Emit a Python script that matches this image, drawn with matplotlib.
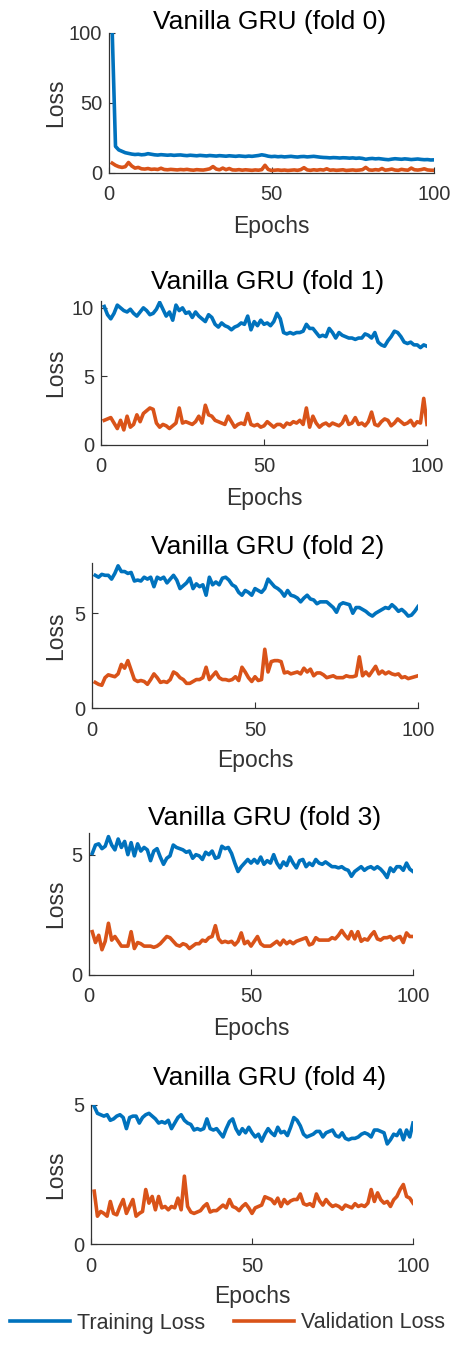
import numpy as np
import matplotlib
matplotlib.use("Agg")
import matplotlib.pyplot as plt

plt.rcParams['font.family'] = ['Liberation Sans', 'DejaVu Sans']

epochs = np.arange(1, 101)

fold0_train = [100, 19, 16.5, 15.5, 14.5, 14, 13.5, 13.2, 13.4, 13.0,
               13.2, 13.8, 13.4, 13.0, 12.8, 13.1, 12.9, 12.7, 12.9, 12.6,
               12.8, 12.9, 12.6, 12.4, 12.7, 12.5, 12.3, 12.6, 12.4, 12.2,
               12.5, 12.3, 12.1, 12.4, 12.2, 12.0, 12.3, 12.1, 11.9, 12.2,
               12.0, 11.8, 12.1, 11.9, 12.2, 12.5, 13.0, 12.6, 12.0, 11.7,
               11.9, 11.6, 11.8, 11.5, 11.7, 11.9, 11.6, 11.4, 11.7, 11.8,
               11.5, 11.7, 11.9, 11.6, 11.3, 11.1, 11.0, 10.8, 11.0, 10.9,
               10.7, 10.9, 10.8, 10.6, 10.8, 10.5, 10.7, 10.4, 9.8, 10.2,
               10.4, 10.1, 10.3, 10.0, 9.7, 9.5, 9.9, 10.2, 10.0, 9.8,
               10.1, 9.9, 9.6, 9.8, 10.0, 9.7, 9.5, 9.6, 9.3, 9.4]
fold0_val = [7.0, 5.5, 4.5, 4.0, 4.5, 7.5, 5.0, 3.5, 4.0, 3.0,
             2.8, 3.2, 2.6, 2.8, 2.5, 3.4, 2.5, 2.3, 2.6, 2.4,
             2.2, 2.5, 2.3, 2.6, 2.2, 2.0, 2.4, 2.2, 2.1, 2.5,
             3.0, 4.6, 2.8, 2.3, 3.5, 2.4, 3.2, 2.2, 2.1, 2.4,
             2.0, 2.3, 2.1, 1.9, 2.2, 2.0, 2.4, 5.5, 2.5, 1.8,
             2.0, 2.2, 1.9, 2.1, 1.8, 2.0, 2.2, 1.9, 2.4, 3.8,
             2.2, 1.9, 2.3, 2.0, 2.4, 2.1, 3.0, 2.0, 2.2, 1.9,
             2.1, 2.3, 1.8, 2.0, 2.2, 1.9, 2.1, 2.4, 4.0, 2.2,
             2.0, 2.4, 2.1, 3.2, 2.0, 2.3, 2.8, 2.1, 1.9, 2.6,
             2.2, 2.0, 3.5, 2.3, 2.1, 2.4, 3.0, 2.2, 2.0, 1.9]

fold1_train = [10.1, 9.5, 9.2, 9.6, 10.2, 10.0, 9.8, 9.7, 9.9, 9.6,
               9.4, 9.7, 10.0, 9.8, 9.5, 9.6, 9.9, 10.4, 9.9, 9.4,
               9.7, 9.1, 10.2, 9.8, 10.0, 9.6, 9.7, 9.3, 9.7, 9.4,
               9.2, 9.0, 9.5, 9.3, 8.8, 8.6, 8.9, 8.7, 8.6, 8.4,
               8.6, 8.7, 8.9, 8.8, 9.4, 8.4, 9.0, 8.7, 9.1, 8.8,
               8.9, 8.7, 9.0, 9.6, 9.2, 8.2, 8.1, 8.2, 8.1, 8.2,
               8.2, 8.3, 8.8, 8.5, 8.5, 8.2, 7.9, 8.0, 7.9, 8.5,
               8.2, 7.8, 8.2, 8.0, 7.9, 7.8, 7.8, 7.7, 7.8, 7.8,
               8.1, 8.0, 7.8, 8.2, 7.5, 7.3, 7.2, 7.6, 7.9, 8.3,
               8.2, 7.9, 7.5, 7.4, 7.5, 7.3, 7.3, 7.1, 7.3, 7.2]
fold1_val = [1.8, 1.9, 2.0, 1.6, 1.2, 1.8, 1.1, 2.1, 1.3, 1.5,
             2.2, 1.7, 2.3, 2.5, 2.7, 2.6, 1.6, 1.3, 1.5, 1.4,
             1.2, 1.4, 1.6, 2.7, 1.6, 1.7, 1.6, 1.5, 1.7, 2.1,
             1.6, 2.9, 2.2, 2.1, 1.8, 1.7, 1.6, 1.5, 2.1, 1.7,
             1.3, 1.5, 1.6, 1.5, 2.3, 1.5, 1.4, 1.5, 1.3, 1.4,
             1.7, 1.5, 1.3, 1.5, 1.5, 1.3, 1.6, 1.5, 1.7, 1.6,
             1.8, 1.5, 2.7, 1.3, 2.1, 1.6, 1.3, 1.5, 1.6, 1.4,
             1.6, 1.5, 1.4, 1.6, 2.1, 1.5, 1.6, 2.0, 1.5, 1.6,
             1.4, 1.7, 2.4, 1.5, 1.4, 1.7, 1.9, 1.8, 1.4, 1.6,
             1.9, 1.7, 1.5, 1.6, 1.8, 1.4, 1.7, 1.6, 3.4, 1.5]

fold2_train = [7.0, 6.9, 7.05, 7.0, 7.0, 6.8, 7.1, 7.5, 7.2, 7.2,
               7.1, 7.15, 6.7, 6.75, 6.7, 6.9, 6.8, 6.9, 6.4, 6.9,
               6.8, 6.9, 6.6, 6.8, 7.0, 6.75, 6.3, 6.45, 6.6, 6.85,
               6.3, 6.55, 6.4, 6.5, 5.95, 6.9, 6.5, 6.65, 6.5, 6.85,
               6.9, 6.75, 6.5, 6.4, 6.1, 5.95, 6.2, 6.1, 5.95, 6.3,
               6.2, 6.1, 6.3, 6.8, 6.6, 6.4, 6.3, 6.15, 5.9, 6.2,
               5.95, 5.9, 5.8, 5.6, 5.8, 5.95, 5.75, 5.7, 5.5, 5.6,
               5.6, 5.6, 5.45, 5.3, 5.05, 5.45, 5.55, 5.5, 5.45, 5.0,
               5.3, 5.3, 5.2, 5.1, 4.95, 4.85, 5.0, 5.1, 5.2, 5.3,
               5.25, 5.45, 5.3, 5.1, 5.2, 5.05, 4.85, 4.9, 5.1, 5.35]
fold2_val = [1.35, 1.25, 1.2, 1.6, 1.75, 1.7, 1.65, 1.8, 2.3, 2.1,
             2.5, 2.0, 1.5, 1.4, 1.45, 1.4, 1.25, 1.5, 1.8, 1.6,
             1.35, 1.4, 1.35, 1.5, 1.9, 1.8, 1.6, 1.5, 1.3, 1.3,
             1.4, 1.5, 1.5, 1.6, 2.15, 1.5, 1.7, 1.9, 1.6, 1.5,
             1.5, 1.45, 1.5, 1.65, 1.45, 2.15, 1.9, 1.6, 1.4, 1.65,
             1.45, 1.5, 3.1, 1.9, 2.45, 2.5, 2.5, 2.45, 1.85, 1.9,
             1.8, 1.85, 1.9, 1.8, 2.1, 1.9, 2.05, 1.7, 1.85, 1.85,
             1.75, 1.6, 1.65, 1.7, 1.6, 1.6, 1.6, 1.7, 1.65, 1.65,
             1.7, 2.7, 1.7, 1.9, 1.7, 1.95, 2.2, 1.8, 1.95, 1.8,
             1.9, 1.8, 1.75, 1.8, 1.6, 1.65, 1.55, 1.6, 1.65, 1.7]

fold3_train = [5.05, 5.4, 5.45, 5.25, 5.35, 5.75, 5.4, 5.2, 5.65, 5.3,
               5.55, 5.0, 5.5, 4.95, 5.45, 5.15, 5.3, 5.2, 4.75, 5.15,
               5.25, 4.9, 4.6, 4.85, 4.95, 5.4, 5.3, 5.25, 5.2, 5.1,
               5.15, 4.85, 5.0, 4.95, 4.8, 5.1, 5.0, 5.15, 4.85, 4.9,
               5.35, 5.25, 5.3, 5.05, 4.65, 4.3, 4.5, 4.65, 4.8, 4.65,
               4.8, 4.65, 4.9, 4.6, 4.75, 4.65, 5.0, 4.65, 4.45, 4.7,
               4.55, 4.9, 4.65, 4.45, 4.75, 4.8, 4.5, 4.65, 4.55, 4.8,
               4.65, 4.6, 4.7, 4.6, 4.5, 4.5, 4.45, 4.5, 4.4, 4.35,
               4.1, 4.3, 4.4, 4.5, 4.35, 4.45, 4.5, 4.4, 4.5, 4.4,
               4.25, 4.05, 4.45, 4.3, 4.5, 4.5, 4.35, 4.65, 4.4, 4.3]
fold3_val = [1.8, 1.35, 1.65, 1.05, 1.4, 2.15, 1.45, 1.6, 1.4, 1.2,
             1.2, 1.2, 1.8, 1.1, 1.35, 1.3, 1.2, 1.2, 1.2, 1.15,
             1.2, 1.3, 1.45, 1.6, 1.55, 1.4, 1.25, 1.2, 1.3, 1.25,
             1.1, 1.2, 1.3, 1.3, 1.45, 1.4, 1.55, 1.6, 2.05, 1.5,
             1.35, 1.4, 1.35, 1.4, 1.25, 1.4, 1.75, 1.3, 1.4, 1.2,
             1.4, 1.6, 1.3, 1.2, 1.2, 1.2, 1.3, 1.4, 1.25, 1.45,
             1.3, 1.4, 1.3, 1.4, 1.45, 1.5, 1.55, 1.25, 1.3, 1.55,
             1.45, 1.45, 1.45, 1.45, 1.55, 1.5, 1.65, 1.85, 1.65, 1.5,
             1.8, 1.5, 1.8, 1.4, 1.5, 1.45, 1.65, 1.8, 1.5, 1.45,
             1.55, 1.55, 1.6, 1.45, 1.55, 1.6, 1.35, 1.75, 1.6, 1.6]

fold4_train = [4.95, 4.7, 4.65, 4.6, 4.65, 4.45, 4.5, 4.6, 4.65, 4.55,
               4.15, 4.55, 4.6, 4.6, 4.35, 4.55, 4.65, 4.7, 4.6, 4.5,
               4.35, 4.4, 4.35, 4.45, 4.15, 4.35, 4.55, 4.65, 4.45, 4.35,
               4.3, 4.1, 4.15, 4.1, 4.15, 4.5, 4.15, 4.1, 4.15, 4.0,
               3.85, 4.15, 4.4, 4.5, 4.15, 3.95, 4.15, 4.0, 4.2, 4.0,
               3.85, 3.95, 3.7, 3.95, 4.15, 4.0, 3.9, 4.2, 4.0, 4.05,
               3.9, 4.2, 4.55, 4.45, 4.25, 3.95, 3.85, 3.9, 3.95, 4.05,
               4.05, 3.85, 4.0, 4.05, 4.1, 3.9, 3.85, 4.0, 3.8, 3.75,
               3.8, 3.8, 3.85, 3.95, 4.0, 3.95, 3.85, 4.1, 4.1, 4.05,
               4.0, 3.6, 3.75, 3.95, 3.9, 4.1, 3.75, 4.1, 3.85, 4.35]
fold4_val = [1.9, 1.0, 1.17, 1.1, 1.0, 1.53, 1.1, 1.05, 1.35, 1.6,
             1.1, 1.35, 1.6, 1.0, 1.1, 1.17, 1.96, 1.47, 1.71, 1.23,
             1.71, 1.3, 1.35, 1.23, 1.35, 1.3, 1.65, 1.23, 2.44, 1.35,
             1.15, 1.1, 1.15, 1.2, 1.35, 1.45, 1.15, 1.2, 1.2, 1.3,
             1.4, 1.3, 1.6, 1.35, 1.3, 1.2, 1.35, 1.45, 1.3, 1.1,
             1.3, 1.35, 1.4, 1.7, 1.65, 1.6, 1.45, 1.65, 1.35, 1.6,
             1.45, 1.55, 1.6, 1.6, 1.8, 1.45, 1.4, 1.45, 1.35, 1.8,
             1.55, 1.4, 1.6, 1.45, 1.35, 1.4, 1.35, 1.25, 1.4, 1.35,
             1.3, 1.45, 1.35, 1.4, 1.35, 1.47, 1.96, 1.53, 1.84, 1.59,
             1.47, 1.53, 1.35, 1.59, 1.71, 1.96, 2.14, 1.71, 1.65, 1.47]

titles = ["Vanilla GRU (fold 0)", "Vanilla GRU (fold 1)", "Vanilla GRU (fold 2)",
          "Vanilla GRU (fold 3)", "Vanilla GRU (fold 4)"]
train_series = [fold0_train, fold1_train, fold2_train, fold3_train, fold4_train]
val_series = [fold0_val, fold1_val, fold2_val, fold3_val, fold4_val]
y_limits = [(0, 100), (0, 10.5), (0, 7.65), (0, 5.9), (0, 5)]
y_ticks = [[0, 50, 100], [0, 5, 10], [0, 5], [0, 5], [0, 5]]
x_ticks = [0, 50, 100]
legend_labels = ["Training Loss", "Validation Loss"]

BLUE = "#0072BD"
ORANGE = "#D95319"
GRAY = "#333333"

W, H = 455, 1348
fig = plt.figure(figsize=(W / 100, H / 100), dpi=100)

# axes boxes in pixels: left, right, top, bottom
boxes = [(109, 434, 33, 173),
         (101, 427, 301, 445),
         (92, 418, 563, 708),
         (89, 413, 833, 975),
         (91, 413, 1105, 1244)]
title_y = [22, 282, 547, 818, 1078]
title_x = [270, 268, 268, 265, 270]

handles = None
for i in range(5):
    l, r, t, b = boxes[i]
    ax = fig.add_axes([l / W, 1 - b / H, (r - l) / W, (b - t) / H])
    h1, = ax.plot(epochs, train_series[i], color=BLUE, lw=2.6, solid_joinstyle='round')
    h2, = ax.plot(epochs, val_series[i], color=ORANGE, lw=2.6, solid_joinstyle='round')
    handles = [h1, h2]
    ax.set_xlim(0, 100)
    ax.set_ylim(*y_limits[i])
    ax.set_xticks(x_ticks)
    ax.set_yticks(y_ticks[i])
    for s in ['top', 'right']:
        ax.spines[s].set_visible(False)
    for s in ['left', 'bottom']:
        ax.spines[s].set_color(GRAY)
        ax.spines[s].set_linewidth(0.9)
    ax.tick_params(axis='both', direction='in', length=4, width=0.8,
                   colors=GRAY, labelsize=14.5)
    ax.tick_params(axis='x', pad=9)
    ax.tick_params(axis='y', pad=5)
    ax.set_xlabel("Epochs", fontsize=16.5, color=GRAY)
    ax.xaxis.set_label_coords(0.5, -(53) / (b - t))
    ax.xaxis.label.set_va('center')
    ax.set_ylabel("Loss", fontsize=16.5, color=GRAY)
    ax.yaxis.set_label_coords(-(l - 56) / (r - l), 0.5)
    ax.yaxis.label.set_va('center')
    fig.text(title_x[i] / W, 1 - title_y[i] / H, titles[i], ha='center', va='center',
             fontsize=19, color='black')

fig.legend(handles, legend_labels, loc='center', bbox_to_anchor=(0.5, 1 - 1323 / H),
           ncol=2, frameon=False, fontsize=15.5, handlelength=2.8, handletextpad=0.35,
           columnspacing=1.3, labelcolor=GRAY)

fig.savefig("out.png", dpi=100)
